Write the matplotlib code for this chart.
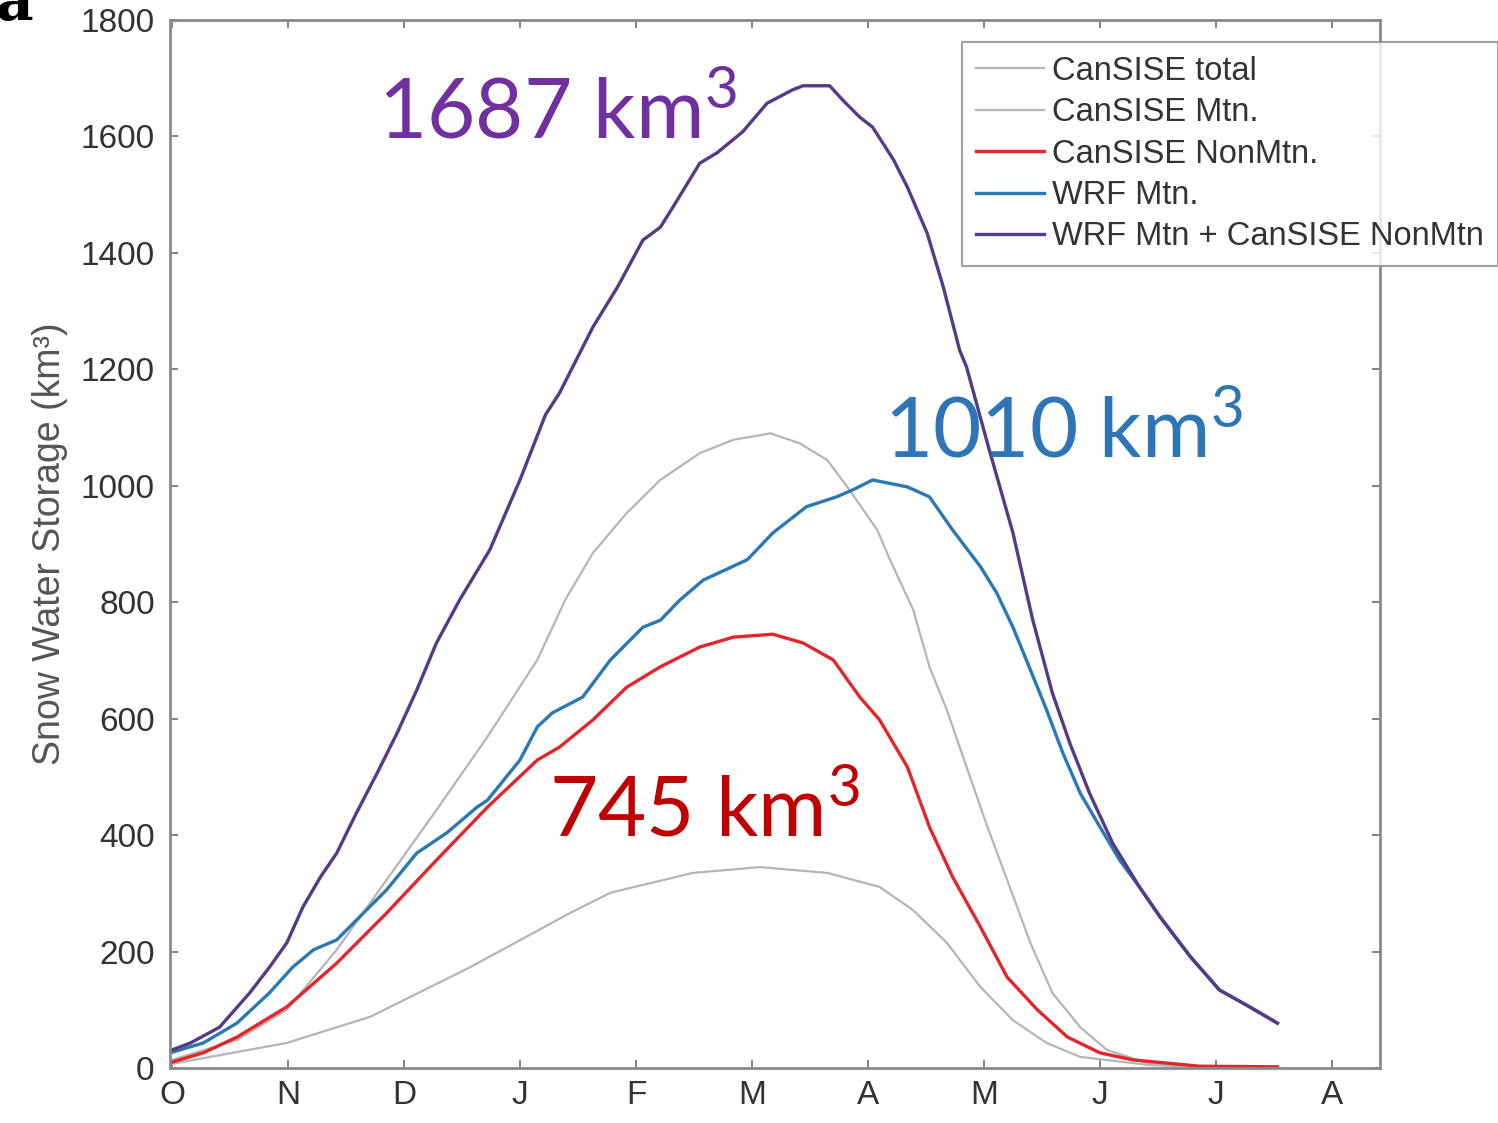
"""
Seasonal snow water storage: CanSISE vs WRF estimates
"""

import matplotlib
matplotlib.use("Agg")
import matplotlib.pyplot as plt

# month axis, October through August
month_labels = ['O', 'N', 'D', 'J', 'F', 'M', 'A', 'M', 'J', 'J', 'A']

# time axis is months since 1 October
total_x = [0.00, 0.56, 0.99, 1.42, 1.85, 2.28, 2.72, 3.15, 3.39, 3.63, 3.92, 4.21,
           4.55, 4.84, 5.16, 5.41, 5.65, 5.84, 6.08, 6.19, 6.39, 6.53, 6.68, 6.85,
           7.03, 7.20, 7.40, 7.59, 7.83, 8.06, 8.43, 8.86, 9.53]
total_swe = [14, 48, 100, 203, 323, 443, 569, 701, 804, 885, 953, 1010,
             1056, 1079, 1090, 1073, 1044, 993, 924, 873, 787, 689, 615, 517,
             414, 323, 215, 129, 70, 31, 7, 2, 1]

mtn_x = [0.00, 0.99, 1.71, 2.57, 3.43, 3.78, 4.49, 5.07, 5.65, 6.10, 6.39, 6.68,
         6.97, 7.25, 7.54, 7.83, 8.43, 8.86, 9.53]
mtn_swe = [7, 43, 88, 173, 266, 301, 335, 345, 335, 311, 271, 215,
           139, 82, 43, 19, 5, 2, 1]

nonmtn_x = [0.00, 0.27, 0.56, 0.99, 1.42, 1.85, 2.28, 2.72, 3.15, 3.34, 3.63, 3.92,
            4.21, 4.55, 4.84, 5.18, 5.44, 5.70, 5.93, 6.10, 6.34, 6.53, 6.73, 6.97,
            7.20, 7.46, 7.72, 8.00, 8.28, 8.86, 9.53]
nonmtn_swe = [10, 26, 53, 105, 180, 266, 357, 448, 529, 551, 598, 654,
              689, 723, 740, 745, 730, 701, 637, 598, 517, 414, 328, 242,
              156, 100, 53, 26, 14, 3, 2]

wrf_x = [0.00, 0.27, 0.56, 0.84, 1.04, 1.22, 1.42, 1.59, 1.85, 2.11, 2.37, 2.63,
         2.72, 3.00, 3.15, 3.28, 3.54, 3.78, 4.06, 4.21, 4.38, 4.58, 4.96, 5.18,
         5.47, 5.73, 5.87, 6.04, 6.34, 6.53, 6.73, 6.97, 7.11, 7.25, 7.40, 7.54,
         7.68, 7.83, 8.00, 8.17, 8.34, 8.52, 8.78, 9.03, 9.29, 9.53]
wrf_swe = [27, 43, 77, 129, 173, 203, 220, 254, 306, 369, 404, 448,
           460, 529, 586, 610, 637, 701, 757, 769, 804, 838, 873, 919,
           964, 981, 993, 1010, 998, 981, 924, 861, 816, 757, 684, 615,
           541, 472, 414, 357, 311, 259, 191, 134, 105, 77]

combo_x = [0.00, 0.16, 0.41, 0.67, 0.84, 0.99, 1.13, 1.28, 1.42, 1.59, 1.77, 1.94,
           2.11, 2.28, 2.48, 2.74, 3.00, 3.22, 3.34, 3.63, 3.84, 4.06, 4.21, 4.32,
           4.55, 4.70, 4.92, 5.13, 5.35, 5.44, 5.67, 5.78, 5.93, 6.04, 6.22, 6.34,
           6.51, 6.65, 6.79, 6.85, 7.03, 7.25, 7.42, 7.59, 7.74, 7.91, 8.11, 8.34,
           8.52, 8.78, 9.03, 9.29, 9.53]
combo_swe = [31, 43, 70, 129, 173, 215, 277, 328, 369, 438, 507, 575,
             649, 730, 804, 890, 1010, 1122, 1159, 1273, 1341, 1422, 1444, 1479,
             1554, 1572, 1608, 1657, 1680, 1687, 1687, 1663, 1633, 1616, 1560, 1513,
             1434, 1341, 1233, 1204, 1073, 919, 770, 644, 558, 472, 386, 311,
             259, 191, 134, 105, 77]

# peak storage call-outs
peak_labels = ['1687', '1010', '745']
peak_x = [1.78, 6.14, 3.25]
peak_y = [1597, 1049, 397]

PURPLE = '#553a86'
BLUE = '#2c78b3'
RED = '#e3262b'
GREY = '#b5b5b5'


def main():
    plt.rcParams['mathtext.fontset'] = 'custom'
    plt.rcParams['mathtext.rm'] = 'Lato'
    plt.rcParams['mathtext.it'] = 'Lato:italic'
    plt.rcParams['lines.solid_joinstyle'] = 'round'

    fig = plt.figure(figsize=(14.98, 11.23), dpi=100)
    ax = fig.add_axes([0.1135, 0.049, 0.8077, 0.9332])

    ax.plot(total_x, total_swe, color=GREY, lw=1.6, label='CanSISE total')
    ax.plot(mtn_x, mtn_swe, color=GREY, lw=1.6, label='CanSISE Mtn.')
    ax.plot(nonmtn_x, nonmtn_swe, color=RED, lw=2.4, label='CanSISE NonMtn.')
    ax.plot(wrf_x, wrf_swe, color=BLUE, lw=2.4, label='WRF Mtn.')
    ax.plot(combo_x, combo_swe, color=PURPLE, lw=2.4,
            label='WRF Mtn + CanSISE NonMtn')

    ax.set_xlim(-0.017, 10.414)
    ax.set_ylim(0, 1800)
    ax.set_xticks(range(len(month_labels)))
    ax.set_xticklabels(month_labels)
    ax.set_yticks(range(0, 1801, 200))

    for side in ax.spines.values():
        side.set_color('#8a8a8a')
        side.set_linewidth(2.0)
    ax.tick_params(direction='in', length=6, width=1.3, color='#777777',
                   top=True, right=True, labelsize=24, labelcolor='#333333')
    ax.tick_params(axis='y', pad=11)
    ax.tick_params(axis='x', pad=9)
    for lab in ax.get_xticklabels() + ax.get_yticklabels():
        lab.set_family('Liberation Sans')

    ax.set_ylabel('Snow Water Storage (km³)', fontsize=27, color='#555555',
                  family='Liberation Sans', labelpad=9)

    text_colors = ['#7030a0', '#2e75b6', '#c00000']
    for lab, x, y, c in zip(peak_labels, peak_x, peak_y, text_colors):
        ax.text(x, y, lab + r' km$^{3}$', color=c, fontsize=60,
                family='Lato', va='baseline', ha='left')

    leg = fig.legend(loc='upper right', bbox_to_anchor=(1.0, 1 - 42 / 1123),
                     borderaxespad=0, frameon=True, fancybox=False,
                     handlelength=2.1, handletextpad=0.25, labelspacing=0.32,
                     borderpad=0.42, prop={'family': 'Liberation Sans', 'size': 23.5})
    leg.get_frame().set_edgecolor('#8a8a8a')
    leg.get_frame().set_linewidth(1.5)
    for t in leg.get_texts():
        t.set_color('#333333')

    fig.text(-0.003, 1 - 20 / 1123, 'a', fontsize=42, fontweight='bold',
             family='DejaVu Serif', va='baseline', ha='left')

    fig.savefig('out.png', dpi=100)
    plt.close(fig)


if __name__ == "__main__":
    main()
